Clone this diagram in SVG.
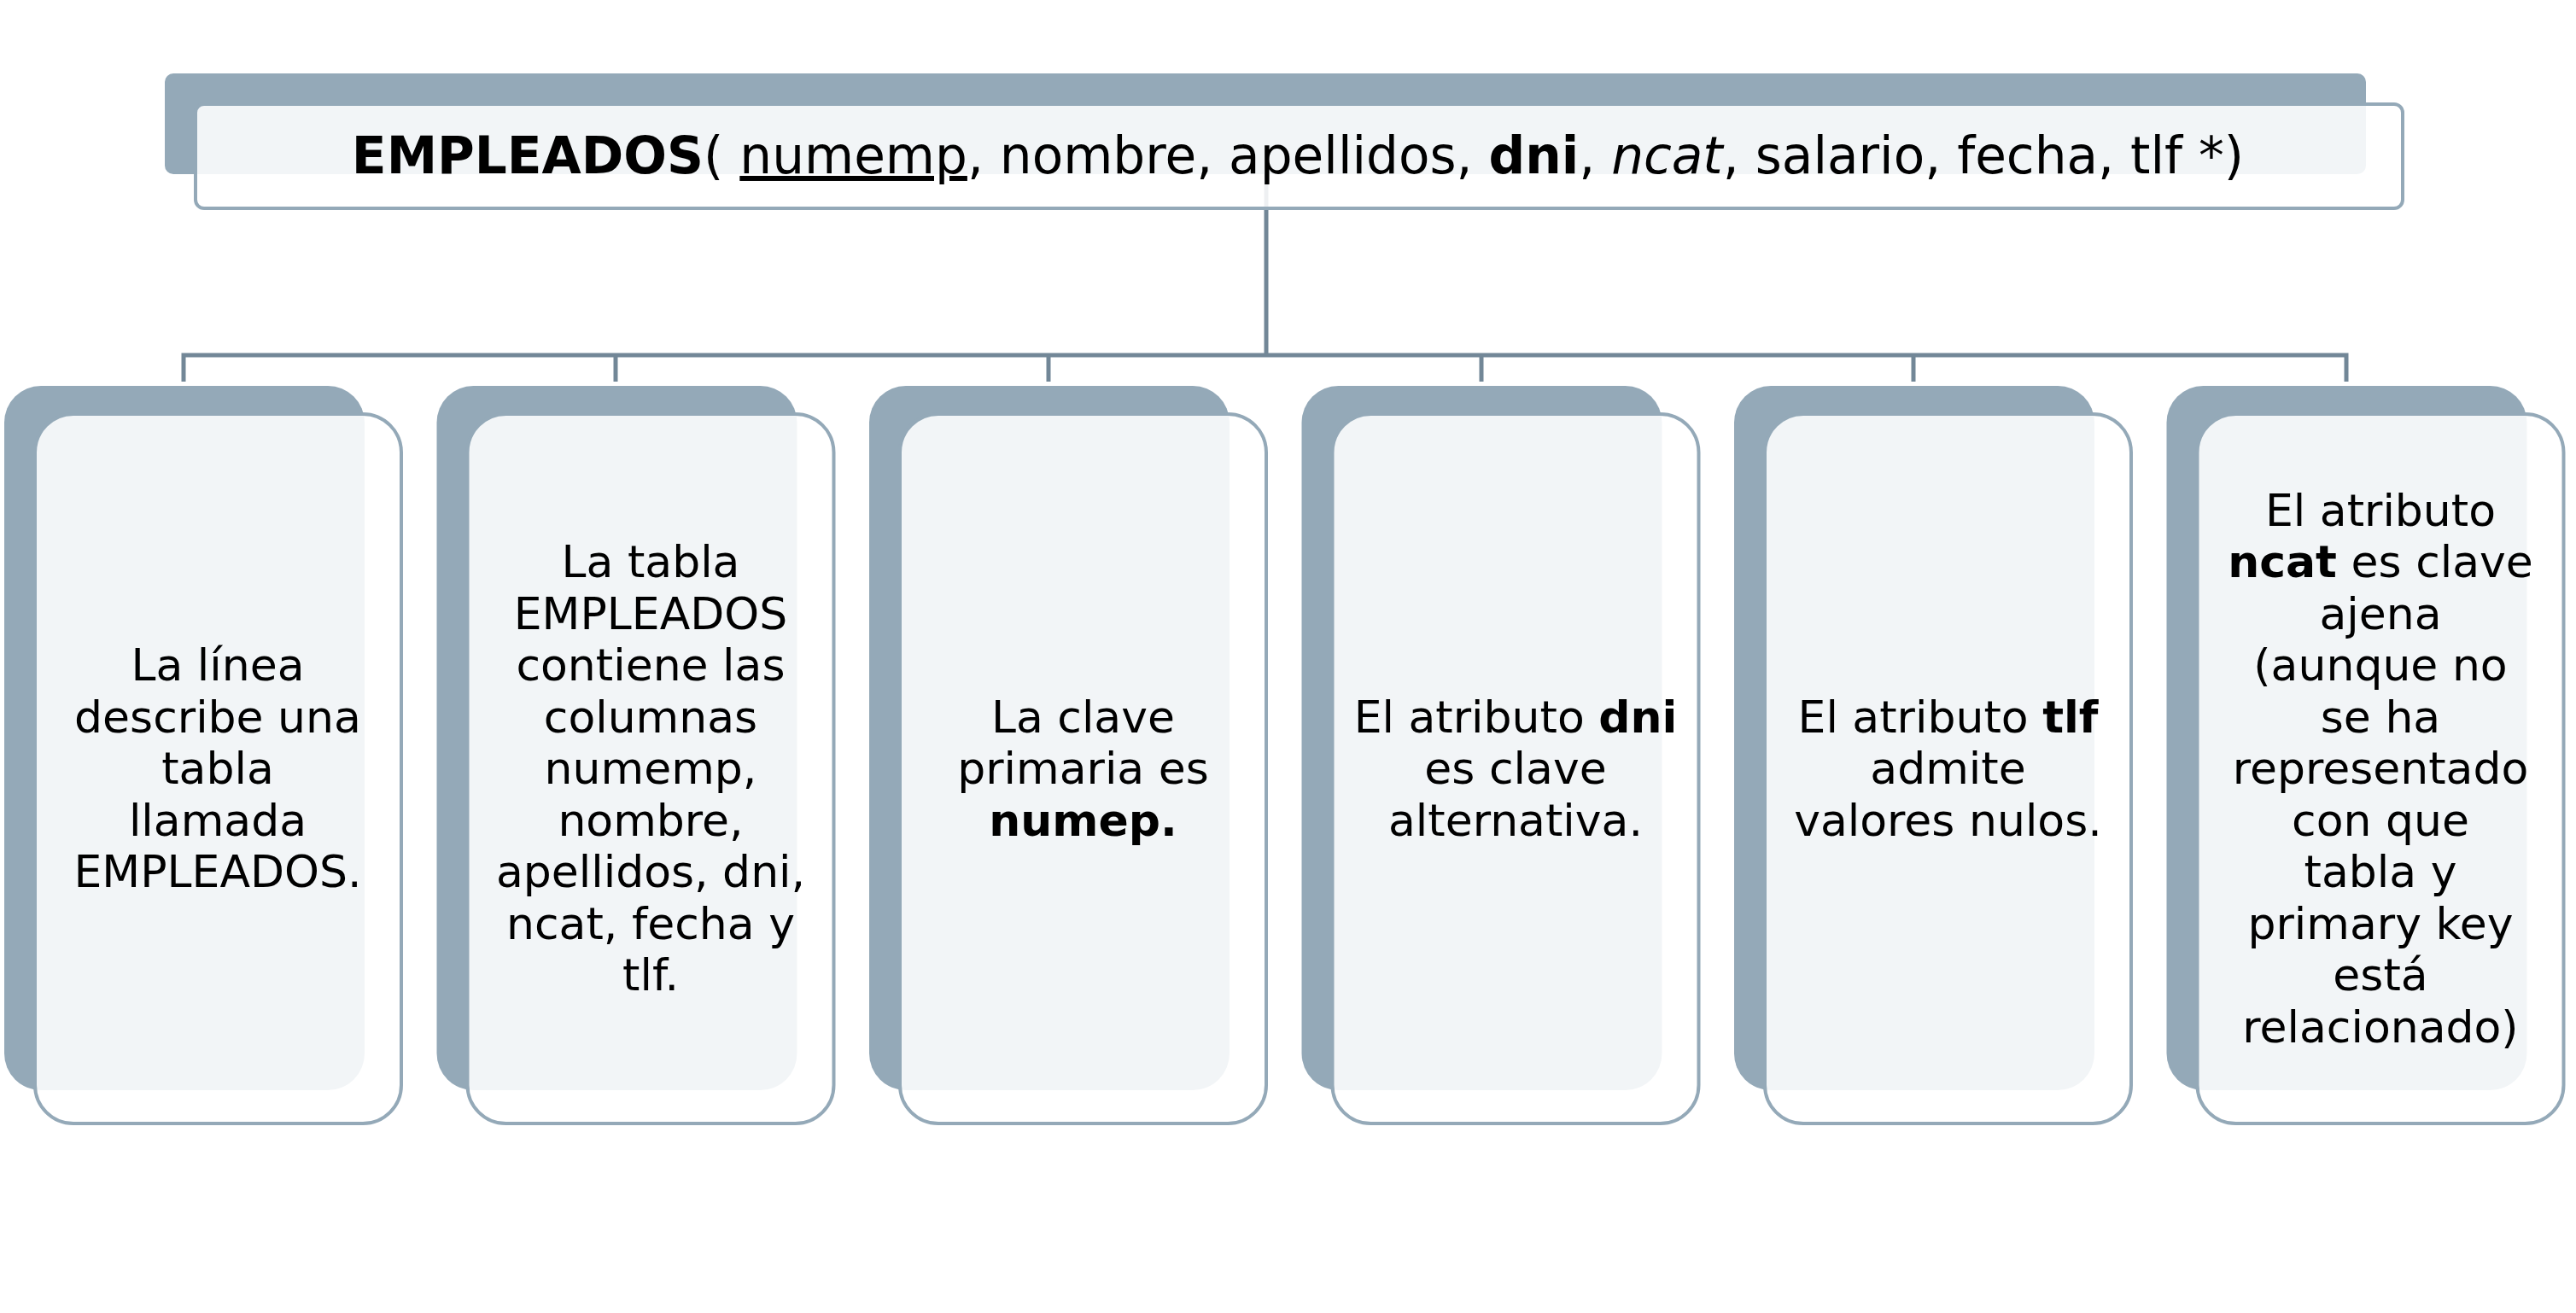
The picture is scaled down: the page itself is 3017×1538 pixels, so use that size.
<svg xmlns="http://www.w3.org/2000/svg" width="3017" height="1538" viewBox="0 0 3017 1538">
<style>
.back{fill:#94A9B8}
.front{fill:#ffffff;fill-opacity:0.88;stroke:#94A9B8;stroke-width:4}
.conn{fill:none;stroke:#728797;stroke-width:5}
.t{font-family:"DejaVu Sans","Liberation Sans",sans-serif;font-size:52px;fill:#000;text-anchor:middle}
.top{font-family:"DejaVu Sans","Liberation Sans",sans-serif;font-size:59.7px;fill:#000;text-anchor:middle}
.b{font-weight:bold}
</style>
<rect width="3017" height="1538" fill="#ffffff"/>
<g id="connectors">
<path class="conn" d="M1483,204 V416"/>
<path class="conn" d="M215,447 V416 H2748 V447"/>
<path class="conn" d="M721,416 V447 M1228,416 V447 M1735,416 V447 M2241,416 V447"/>
</g>
<g id="root">
<rect class="back" x="193" y="86" width="2578" height="118" rx="10"/>
<rect class="front" x="229" y="122" width="2585" height="122" rx="10"/>
<text class="top" x="1520" y="203"><tspan class="b">EMPLEADOS</tspan>( <tspan text-decoration="underline">numemp</tspan>, nombre, apellidos, <tspan class="b">dni</tspan>, <tspan font-style="italic">ncat</tspan>, salario, fecha, tlf *)</text>
</g>
<g id="node1">
<rect class="back" x="5" y="452" width="422" height="825" rx="43"/>
<rect class="front" x="41" y="485" width="429" height="831" rx="45"/>
<text class="t" x="255"><tspan x="255" y="797">La línea</tspan><tspan x="255" y="857.5">describe una</tspan><tspan x="255" y="918">tabla</tspan><tspan x="255" y="978.5">llamada</tspan><tspan x="255" y="1039">EMPLEADOS.</tspan></text>
</g>
<g id="node2">
<rect class="back" x="511.5" y="452" width="422" height="825" rx="43"/>
<rect class="front" x="547.5" y="485" width="429" height="831" rx="45"/>
<text class="t"><tspan x="762" y="676">La tabla</tspan><tspan x="762" y="736.5">EMPLEADOS</tspan><tspan x="762" y="797">contiene las</tspan><tspan x="762" y="857.5">columnas</tspan><tspan x="762" y="918">numemp,</tspan><tspan x="762" y="978.5">nombre,</tspan><tspan x="762" y="1039">apellidos, dni,</tspan><tspan x="762" y="1099.5">ncat, fecha y</tspan><tspan x="762" y="1160">tlf.</tspan></text>
</g>
<g id="node3">
<rect class="back" x="1018" y="452" width="422" height="825" rx="43"/>
<rect class="front" x="1054" y="485" width="429" height="831" rx="45"/>
<text class="t"><tspan x="1268.5" y="857.5">La clave</tspan><tspan x="1268.5" y="918">primaria es</tspan><tspan x="1268.5" y="978.5" class="b">numep.</tspan></text>
</g>
<g id="node4">
<rect class="back" x="1524.5" y="452" width="422" height="825" rx="43"/>
<rect class="front" x="1560.5" y="485" width="429" height="831" rx="45"/>
<text class="t"><tspan x="1775" y="857.5">El atributo <tspan class="b">dni</tspan></tspan><tspan x="1775" y="918">es clave</tspan><tspan x="1775" y="978.5">alternativa.</tspan></text>
</g>
<g id="node5">
<rect class="back" x="2031" y="452" width="422" height="825" rx="43"/>
<rect class="front" x="2067" y="485" width="429" height="831" rx="45"/>
<text class="t"><tspan x="2281.5" y="857.5">El atributo <tspan class="b">tlf</tspan></tspan><tspan x="2281.5" y="918">admite</tspan><tspan x="2281.5" y="978.5">valores nulos.</tspan></text>
</g>
<g id="node6">
<rect class="back" x="2537.5" y="452" width="422" height="825" rx="43"/>
<rect class="front" x="2573.5" y="485" width="429" height="831" rx="45"/>
<text class="t"><tspan x="2788" y="615.5">El atributo</tspan><tspan x="2788" y="676"><tspan class="b">ncat</tspan> es clave</tspan><tspan x="2788" y="736.5">ajena</tspan><tspan x="2788" y="797">(aunque no</tspan><tspan x="2788" y="857.5">se ha</tspan><tspan x="2788" y="918">representado</tspan><tspan x="2788" y="978.5">con que</tspan><tspan x="2788" y="1039">tabla y</tspan><tspan x="2788" y="1099.5">primary key</tspan><tspan x="2788" y="1160">está</tspan><tspan x="2788" y="1220.5">relacionado)</tspan></text>
</g>
</svg>
